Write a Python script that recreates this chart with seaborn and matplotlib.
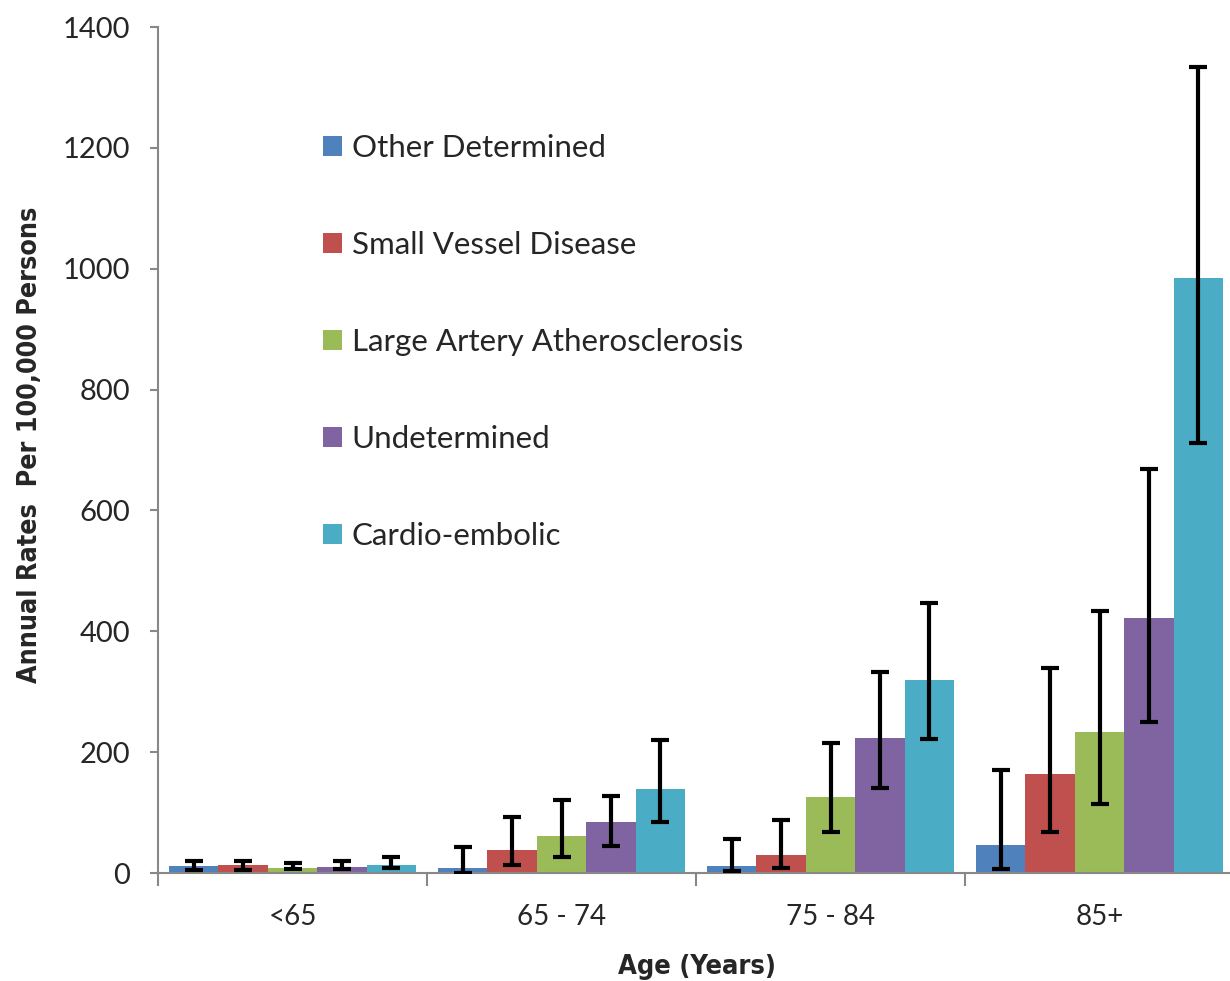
import matplotlib
matplotlib.use("Agg")
import matplotlib.pyplot as plt
from matplotlib import font_manager
import seaborn as sns
import pandas as pd
import numpy as np

# ---- data ----
ages = ['<65', '65 - 74', '75 - 84', '85+']
subtypes = ['Other Determined', 'Small Vessel Disease', 'Large Artery Atherosclerosis',
            'Undetermined', 'Cardio-embolic']
other = [11, 8, 12, 47]
small = [13, 38, 29, 164]
large = [8, 62, 125, 234]
undet = [10, 85, 223, 422]
cardio = [14, 139, 319, 985]

other_lo = [5, 0, 3, 6]
other_hi = [20, 43, 56, 170]
small_lo = [5, 13, 8, 68]
small_hi = [20, 92, 88, 339]
large_lo = [6, 27, 68, 114]
large_hi = [16, 121, 215, 434]
undet_lo = [6, 44, 140, 250]
undet_hi = [20, 128, 333, 668]
cardio_lo = [9, 84, 221, 711]
cardio_hi = [26, 220, 447, 1333]

colors = ['#4F81BD', '#C0504D', '#9BBB59', '#8064A2', '#4BACC6']

values = [other, small, large, undet, cardio]
lows = [other_lo, small_lo, large_lo, undet_lo, cardio_lo]
highs = [other_hi, small_hi, large_hi, undet_hi, cardio_hi]

rows = []
for s, vals in zip(subtypes, values):
    for a, v in zip(ages, vals):
        rows.append({'Age': a, 'Subtype': s, 'Rate': v})
df = pd.DataFrame(rows)

sns.set_style("white")
names = {f.name for f in font_manager.fontManager.ttflist}
plt.rcParams['font.family'] = ['Lato', 'DejaVu Sans']
if 'Liberation Sans Narrow' in names:
    label_font = dict(family='Liberation Sans Narrow', fontweight='bold')
else:
    label_font = dict(family='DejaVu Sans', fontweight='bold', fontstretch='condensed')

fig = plt.figure(figsize=(12.30, 9.81), dpi=100)
ax = fig.add_axes([158/1230, 1 - 873/981, (1234 - 158)/1230, (873 - 27)/981])

sns.barplot(data=df, x='Age', y='Rate', hue='Subtype', order=ages, hue_order=subtypes,
            palette=colors, width=0.92, gap=0, errorbar=None, ax=ax,
            saturation=1, linewidth=0, legend=True)

for cont, vals, lo, hi in zip(ax.containers, values, lows, highs):
    xs = [p.get_x() + p.get_width() / 2 for p in cont.patches]
    yerr = np.array([np.array(vals) - np.array(lo), np.array(hi) - np.array(vals)])
    ax.errorbar(xs, vals, yerr=yerr, fmt='none', ecolor='black', elinewidth=3,
                capsize=6.5, capthick=3, zorder=5)

ax.set_xlim(-0.5, 3.5)
ax.set_ylim(0, 1400)
ax.set_yticks(range(0, 1401, 200))
ax.tick_params(axis='y', which='major', direction='out', length=6, width=1.5,
               color='#888888', labelsize=21, pad=14, left=True)
ax.set_xticks(range(4))
ax.set_xticks([-0.5, 0.5, 1.5, 2.5, 3.5], minor=True)
ax.tick_params(axis='x', which='major', length=0, labelsize=20, pad=22)
ax.tick_params(axis='x', which='minor', direction='out', length=9, width=1.5,
               color='#888888', bottom=True)
for sp in ['top', 'right']:
    ax.spines[sp].set_visible(False)
for sp in ['left', 'bottom']:
    ax.spines[sp].set_color('#888888')
    ax.spines[sp].set_linewidth(1.5)

ax.set_xlabel('Age (Years)', fontsize=19.5, va='center', **label_font)
ax.set_ylabel('Annual Rates  Per 100,000 Persons', fontsize=19.3, **label_font)
ax.xaxis.set_label_coords((697 - 158) / (1234 - 158), -(967 - 873) / 846)
ax.yaxis.set_label_coords(-(158 - 43) / (1234 - 158), (873 - 445) / 846)

handles, labels = ax.get_legend_handles_labels()
ax.legend(handles, labels, loc='upper left', frameon=False, fontsize=22.5,
          bbox_to_anchor=(323 / 1230, 1 - 134 / 981), bbox_transform=fig.transFigure,
          handlelength=0.62, handleheight=0.62, handletextpad=0.3,
          labelspacing=2.21, borderpad=0, borderaxespad=0)

fig.savefig('out.png', dpi=100)
